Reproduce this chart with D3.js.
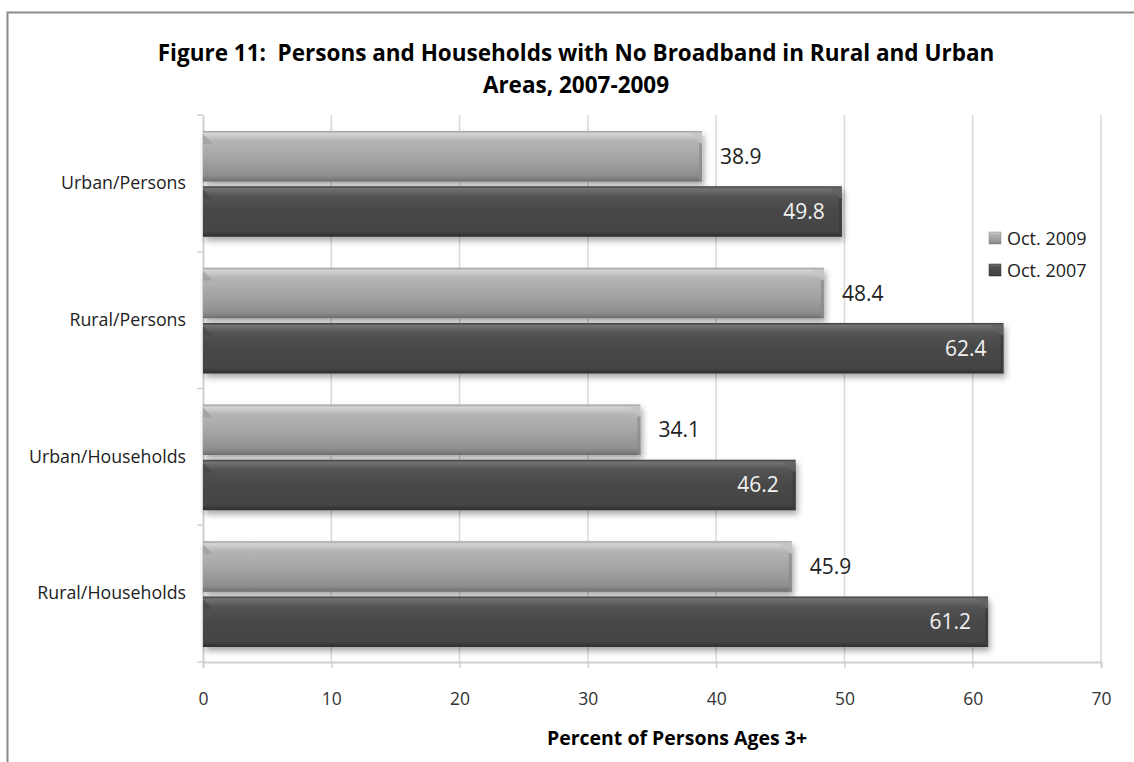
<!DOCTYPE html>
<html><head><meta charset="utf-8">
<script src="https://cdn.jsdelivr.net/npm/d3@7"></script>
<style>body{margin:0;background:#fff;} svg{display:block;font-family:"Open Sans",sans-serif;} text{white-space:pre;}</style>
</head><body>
<svg id="c" width="1134" height="762"></svg>
<script>
const categories = ["Urban/Persons","Rural/Persons","Urban/Households","Rural/Households"];
const seriesNames = ["Oct. 2009","Oct. 2007"];
const values2009 = [38.9,48.4,34.1,45.9];
const values2007 = [49.8,62.4,46.2,61.2];
const xTicks = [0,10,20,30,40,50,60,70];
const titleLines = ["Figure 11:  Persons and Households with No Broadband in Rural and Urban","Areas, 2007-2009"];
const xTitle = "Percent of Persons Ages 3+";

(function(){
const FONT = '"Open Sans",sans-serif';
const svg = d3.select("#c");
const defs = svg.append("defs");
const pL=203, pR=1101, pT=115, pB=662;
const x = d3.scaleLinear().domain([0,70]).range([pL,pR]);
const y = d3.scaleBand().domain(categories).range([pT,pB]).paddingInner(0).paddingOuter(0);
const sub = d3.scaleBand().domain(seriesNames).range([16, y.bandwidth()-15]).paddingInner(0.085);

function grad(id, stops){
  const g = defs.append("linearGradient").attr("id",id).attr("x1",0).attr("y1",0).attr("x2",0).attr("y2",1);
  stops.forEach(s=>g.append("stop").attr("offset",s[0]).attr("stop-color",s[1]));
}
grad("gLight",[[0,"#9a9a9a"],[0.05,"#d4d4d4"],[0.2,"#b4b4b4"],[0.55,"#a4a4a4"],[0.88,"#8e8e8e"],[0.96,"#7a7a7a"],[1,"#6a6a6a"]]);
grad("gDark",[[0,"#3c3c3c"],[0.05,"#727272"],[0.2,"#545454"],[0.5,"#474747"],[0.9,"#444"],[0.96,"#363636"],[1,"#2e2e2e"]]);
const f = defs.append("filter").attr("id","sh").attr("x","-5%").attr("y","-20%").attr("width","110%").attr("height","160%");
f.append("feGaussianBlur").attr("in","SourceAlpha").attr("stdDeviation",3);
f.append("feOffset").attr("dx",2).attr("dy",4).attr("result","b");
f.append("feComponentTransfer").append("feFuncA").attr("type","linear").attr("slope",0.35);
const m=f.append("feMerge"); m.append("feMergeNode"); m.append("feMergeNode").attr("in","SourceGraphic");

svg.append("path").attr("d","M7.5,762 L7.5,12.5 L1134,12.5").attr("fill","none").attr("stroke","#8a8a8a").attr("stroke-width",2);

svg.append("text").attr("x",576).attr("y",61).attr("text-anchor","middle")
  .attr("font-size",22.5).attr("font-weight","bold").attr("fill","#000")
  .selectAll("tspan").data(titleLines).join("tspan").attr("x",576).attr("dy",(d,i)=>i?32:0).text(d=>d);

svg.append("g").selectAll("line").data(xTicks.slice(1)).join("line")
  .attr("x1",d=>x(d)).attr("x2",d=>x(d)).attr("y1",pT).attr("y2",pB)
  .attr("stroke","#d9d9d9").attr("stroke-width",1.5);

const xa = svg.append("g").attr("transform",`translate(0,${pB})`)
  .call(d3.axisBottom(x).tickValues(xTicks).tickSize(6).tickPadding(25));
xa.select(".domain").attr("stroke","#d0d0d0").attr("stroke-width",2);
xa.selectAll(".tick line").attr("stroke","#d0d0d0").attr("stroke-width",1.5);
xa.selectAll(".tick text").attr("font-size",17.5).attr("fill","#333").attr("font-family",FONT);

const ya = svg.append("g").attr("transform",`translate(${pL},0)`)
  .call(d3.axisLeft(y).tickSize(0).tickPadding(17));
ya.select(".domain").attr("stroke","#d0d0d0").attr("stroke-width",2);
ya.selectAll(".tick text").attr("font-size",17.8).attr("fill","#222").attr("font-family",FONT);
svg.append("g").selectAll("line").data(d3.range(categories.length+1)).join("line")
  .attr("x1",pL-6).attr("x2",pL).attr("y1",i=>pT+i*y.step()).attr("y2",i=>pT+i*y.step())
  .attr("stroke","#d0d0d0").attr("stroke-width",1.5);

const rows = categories.map((c,i)=>[
  {cat:c, s:seriesNames[0], v:values2009[i]},
  {cat:c, s:seriesNames[1], v:values2007[i]}]).flat();
const bg = svg.append("g");
rows.forEach(d=>{
  const by = y(d.cat)+sub(d.s), bh = sub.bandwidth(), bx = x(0), bw = x(d.v)-x(0);
  const light = d.s===seriesNames[0];
  const g = bg.append("g").attr("filter","url(#sh)");
  g.append("rect").attr("x",bx).attr("y",by).attr("width",bw).attr("height",bh)
    .attr("fill",light?"url(#gLight)":"url(#gDark)");
  const b = 12;
  g.append("path").attr("d",`M${bx+bw-b},${by+2} L${bx+bw},${by+2} L${bx+bw},${by+b+2} Z`)
    .attr("fill",light?"#c4c4c4":"#626262").attr("opacity",0.8);
  g.append("path").attr("d",`M${bx+bw-3},${by+b} L${bx+bw},${by+b} L${bx+bw},${by+bh} L${bx+bw-3},${by+bh} Z`)
    .attr("fill",light?"#8a8a8a":"#3a3a3a").attr("opacity",0.7);
  g.append("path").attr("d",`M${bx},${by+3} L${bx+10},${by+13} L${bx},${by+13} Z`)
    .attr("fill",light?"#a0a0a0":"#4a4a4a").attr("opacity",0.8);
  svg.append("text").attr("x", light ? x(d.v)+18 : x(d.v)-17)
    .attr("y",by+bh/2+7.5).attr("text-anchor",light?"start":"end")
    .attr("font-size",21).attr("fill",light?"#222":"#f2f2f2").text(d.v.toFixed(1));
});

const lg = svg.append("g").attr("transform","translate(989,239)");
seriesNames.forEach((s,i)=>{
  const gy = i*32;
  lg.append("rect").attr("x",0).attr("y",gy-7).attr("width",12).attr("height",12)
    .attr("fill",i?"url(#gDark)":"url(#gLight)").attr("stroke",i?"#333":"#888").attr("stroke-width",0.5);
  lg.append("text").attr("x",18).attr("y",gy+6).attr("font-size",18).attr("fill","#222").text(s);
});

svg.append("text").attr("x",677).attr("y",745).attr("text-anchor","middle")
  .attr("font-size",19.5).attr("font-weight","bold").attr("fill","#000").text(xTitle);
})();
</script>
</body></html>
